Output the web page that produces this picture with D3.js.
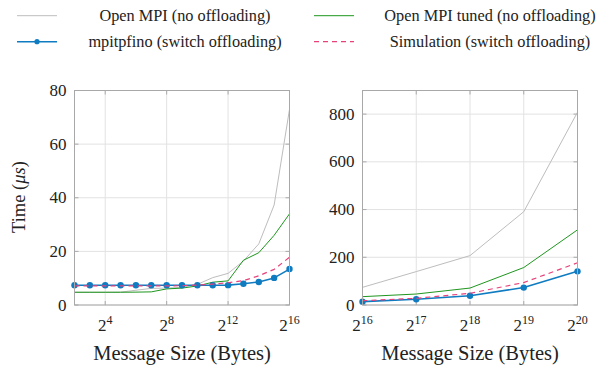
<!DOCTYPE html>
<html><head><meta charset="utf-8">
<script src="https://cdn.jsdelivr.net/npm/d3@7"></script>
<style>body{margin:0;background:#fff}svg{display:block}</style>
</head><body><svg id="c" width="599" height="369" font-family="'Liberation Serif', 'Times New Roman', serif" fill="#222"></svg>
<script>
// ---- data ----
const leftExp = [2,3,4,5,6,7,8,9,10,11,12,13,14,15,16];
const leftOpenMPI = [4.75,4.75,4.75,4.8,5.5,6.2,6.3,6.6,7.7,10.2,11.8,16.4,22.8,37.3,73];
const leftTuned   = [4.75,4.75,4.75,4.75,4.8,4.9,6.0,6.3,7.1,8.5,9.0,16.7,19.5,26,34];
const leftSwitch  = [7.35,7.35,7.35,7.35,7.35,7.35,7.35,7.35,7.35,7.35,7.4,7.95,8.6,10.1,13.4];
const leftSim     = [7.1,7.1,7.1,7.1,7.1,7.1,7.1,7.2,7.4,7.8,8.3,9.1,10.9,13.3,17.8];
const rightExp = [16,17,18,19,20];
const rightOpenMPI = [74,140,207,391,808];
const rightTuned   = [35,46,71,157,315];
const rightSwitch  = [14,24,39,73,141];
const rightSim     = [18,28,49,94,177];
const leftXTicks = [4,8,12,16];
const leftYTicks = [0,20,40,60,80];
const rightXTicks = [16,17,18,19,20];
const rightYTicks = [0,200,400,600,800];
const seriesNames = ["Open MPI (no offloading)","Open MPI tuned (no offloading)","mpitpfino (switch offloading)","Simulation (switch offloading)"];

const styles = [
  {color:"#bdbdbd", w:1, dash:null, dot:false},
  {color:"#1e961e", w:1, dash:null, dot:false},
  {color:"#0f7bc0", w:1.6, dash:null, dot:true},
  {color:"#e8407a", w:1.2, dash:"5,4", dot:false}
];

const svg = d3.select("#c");

function panel(opts){
  const {x0,x1,y0,y1,xDom,yDom,xTicks,yTicks,exps,series} = opts;
  const x = d3.scaleLinear().domain(xDom).range([x0,x1]);
  const y = d3.scaleLinear().domain(yDom).range([y1,y0]);
  const g = svg.append("g");
  g.selectAll(".gx").data(xTicks).join("line")
    .attr("x1",d=>x(d)).attr("x2",d=>x(d)).attr("y1",y0).attr("y2",y1)
    .attr("stroke","#e2e2e2").attr("stroke-width",1);
  g.selectAll(".gy").data(yTicks).join("line")
    .attr("x1",x0).attr("x2",x1).attr("y1",d=>y(d)).attr("y2",d=>y(d))
    .attr("stroke","#e2e2e2").attr("stroke-width",1);
  xTicks.forEach(t=>{
    g.append("line").attr("x1",x(t)).attr("x2",x(t)).attr("y1",y1).attr("y2",y1-4).attr("stroke","#aaa");
    g.append("line").attr("x1",x(t)).attr("x2",x(t)).attr("y1",y0).attr("y2",y0+4).attr("stroke","#aaa");
  });
  yTicks.forEach(t=>{
    g.append("line").attr("x1",x0).attr("x2",x0+4).attr("y1",y(t)).attr("y2",y(t)).attr("stroke","#aaa");
    g.append("line").attr("x1",x1).attr("x2",x1-4).attr("y1",y(t)).attr("y2",y(t)).attr("stroke","#aaa");
  });
  const line = d3.line().x((d,i)=>x(exps[i])).y(d=>y(d));
  series.forEach((s,k)=>{
    const st = styles[k];
    g.append("path").attr("d",line(s)).attr("fill","none").attr("stroke",st.color)
      .attr("stroke-width",st.w).attr("stroke-dasharray",st.dash).attr("stroke-linejoin","round");
    if(st.dot){
      g.selectAll(null).data(s).join("circle").attr("cx",(d,i)=>x(exps[i])).attr("cy",d=>y(d))
        .attr("r",3.2).attr("fill",st.color);
    }
  });
  g.append("rect").attr("x",x0).attr("y",y0).attr("width",x1-x0).attr("height",y1-y0)
    .attr("fill","none").attr("stroke","#a8a8a8").attr("stroke-width",1);
  g.selectAll(".yl").data(yTicks).join("text").attr("x",x0-8).attr("y",d=>y(d)+5.5)
    .attr("text-anchor","end").attr("font-size",17).text(d=>d);
  xTicks.forEach(t=>{
    const tx = g.append("text").attr("x",x(t)).attr("y",331).attr("text-anchor","middle").attr("font-size",17);
    tx.append("tspan").text("2");
    tx.append("tspan").attr("font-size",12).attr("dy",-7).text(t);
  });
  g.append("text").attr("x",(x0+x1)/2).attr("y",359.5).attr("text-anchor","middle").attr("font-size",20.5).text("Message Size (Bytes)");
}

panel({x0:74.5,x1:289.5,y0:90.5,y1:305,xDom:[2,16],yDom:[0,80],xTicks:leftXTicks,yTicks:leftYTicks,exps:leftExp,
  series:[leftOpenMPI,leftTuned,leftSwitch,leftSim]});
panel({x0:362.5,x1:577.5,y0:90.5,y1:305,xDom:[16,20],yDom:[0,899],xTicks:rightXTicks,yTicks:rightYTicks,exps:rightExp,
  series:[rightOpenMPI,rightTuned,rightSwitch,rightSim]});

const yt = svg.append("text").attr("transform","translate(25,197) rotate(-90)").attr("text-anchor","middle").attr("font-size",18.5);
yt.append("tspan").text("Time (");
yt.append("tspan").attr("font-style","italic").text("μs");
yt.append("tspan").text(")");

const legPos = [{lx:17,tx:185,y:15.7},{lx:314,tx:490,y:15.7},{lx:17,tx:185,y:41.7},{lx:314,tx:490,y:41.7}];
seriesNames.forEach((n,k)=>{
  const p = legPos[k], st = styles[k];
  svg.append("line").attr("x1",p.lx).attr("x2",p.lx+40).attr("y1",p.y).attr("y2",p.y)
    .attr("stroke",st.color).attr("stroke-width",st.w).attr("stroke-dasharray",st.dash);
  if(st.dot) svg.append("circle").attr("cx",p.lx+20).attr("cy",p.y).attr("r",2.6).attr("fill",st.color);
  svg.append("text").attr("x",p.tx).attr("y",p.y+5).attr("text-anchor","middle").attr("font-size",16.3).text(n);
});
</script></body></html>
